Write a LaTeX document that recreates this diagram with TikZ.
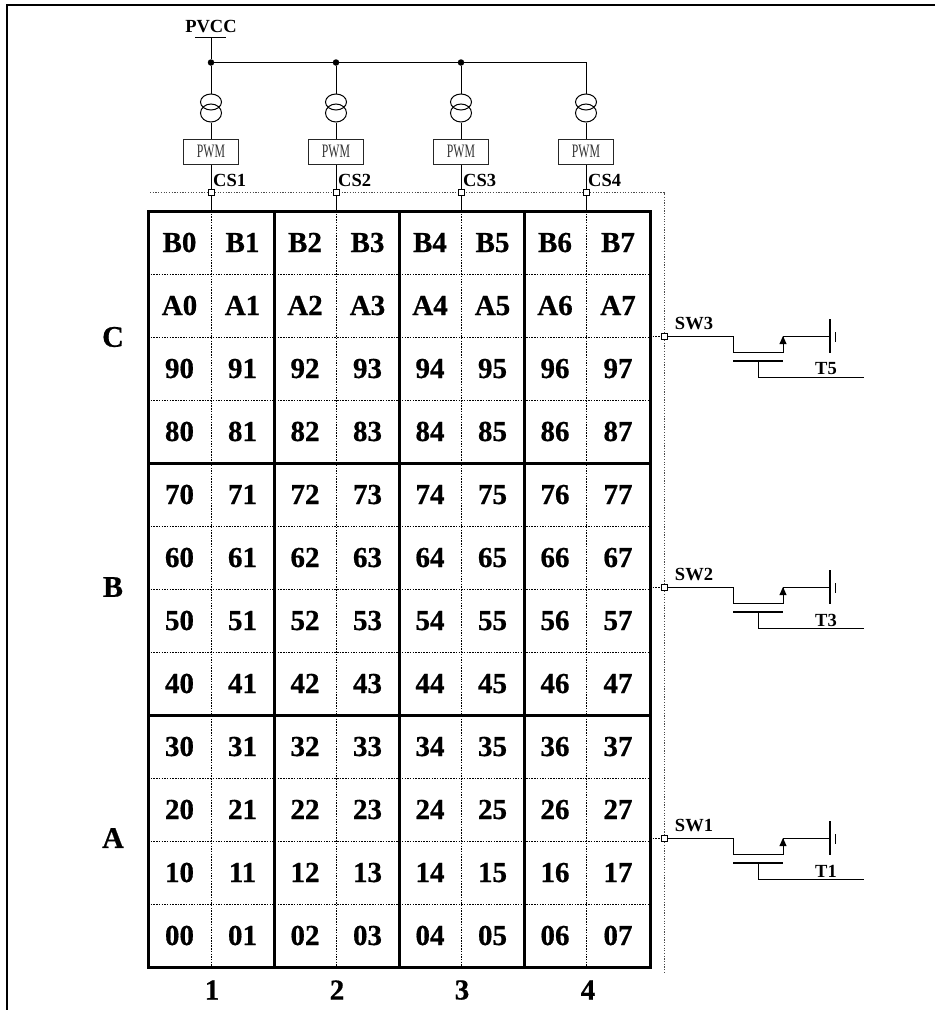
\documentclass[tikz,border=0pt]{standalone}
\usepackage{fontspec}
\usepackage{graphicx}
\setmainfont{Liberation Serif}
\usetikzlibrary{arrows.meta,shapes.geometric}
\newfontfamily\heavyserif[FakeBold=0.6]{Liberation Serif Bold}
\tikzset{
  wire/.style={line width=1pt,black},
  heavy/.style={line width=3pt,black,line cap=rect},
  griddot/.style={line width=0.9pt,black,dash pattern=on 1.5pt off 1.2pt},
  outerdot/.style={line width=0.8pt,black!70,dash pattern=on 1.2pt off 1.5pt},
  cell/.style={font=\fontsize{29}{29}\selectfont\heavyserif,inner sep=0pt,text height=19pt,text depth=0pt,anchor=center},
  sidelabel/.style={font=\fontsize{30}{30}\selectfont\heavyserif,inner sep=0pt},
  collabel/.style={font=\fontsize{29}{29}\selectfont\heavyserif,inner sep=0pt},
  pinlabel/.style={font=\fontsize{18.5}{18.5}\selectfont\bfseries,inner sep=0pt},
  pwmbox/.style={draw=black!85,line width=1pt,fill=white,minimum width=55pt,minimum height=25pt,inner sep=0pt,font=\fontsize{19}{19}\selectfont,text=black!80},
  port/.style={draw=black,fill=white,line width=1pt,minimum size=6pt,inner sep=0pt},
  junction/.style={circle,fill=black,minimum size=6.5pt,inner sep=0pt},
  coil/.style={ellipse,draw=black,line width=1pt},
}
\begin{document}
\begin{tikzpicture}[x=1pt,y=-1pt]
\useasboundingbox (0,0) rectangle (935,1010);
\fill[white] (0,0) rectangle (935,1010);
% page frame
\coordinate (frameTL) at (7,5);
\coordinate (frameTR) at (935,5);
\coordinate (frameBL) at (7,1010);
\draw[line width=1.3pt] (frameTR) -- (frameTL) -- (frameBL);
% outer dotted boundary
\coordinate (dotL) at (150,192.5);
\coordinate (dotC) at (664,192.5);
\coordinate (dotB) at (664,972);
\draw[outerdot] (dotL) -- (dotC) -- (dotB);
% inner dotted grid
\foreach \y in {274,337,400,526,589,652,778,841,904}
  \draw[griddot] (148,\y) -- (650,\y);
\foreach \x in {211,336,461,586}
  \draw[griddot] (\x,211) -- (\x,967);
% heavy grid
\foreach \y in {211,463,715,967}
  \draw[heavy] (148,\y) -- (650,\y);
\foreach \x in {148,274,399,524,650}
  \draw[heavy] (\x,211) -- (\x,967);
% cell labels
\foreach \lab [count=\r from 0] in {B,A,9,8,7,6,5,4,3,2,1,0}{
  \foreach \c/\x in {0/179.5,1/242.5,2/305,3/367.5,4/430,5/492.5,6/555,7/618}{
    \pgfmathsetmacro{\yy}{242.5+63*\r}
    \node[cell] (cell\lab\c) at (\x,\yy) {\lab\c};
  }
}
% side labels
\node[sidelabel] (groupC) at (113,337) {C};
\node[sidelabel] (groupB) at (113,587) {B};
\node[sidelabel] (groupA) at (113,838) {A};
\node[collabel] (col1) at (212,990) {1};
\node[collabel] (col2) at (337,990) {2};
\node[collabel] (col3) at (462,990) {3};
\node[collabel] (col4) at (588,990) {4};
% supply
\coordinate (pvccL) at (195,37);
\coordinate (pvccR) at (226,37);
\coordinate (pvcc) at (211,37);
\node[pinlabel] (pvcclabel) at (211,26.5) {PVCC};
\draw[wire] (pvccL) -- (pvccR);
\node[junction] (j1) at (211,62.5) {};
\node[junction] (j2) at (336,62.5) {};
\node[junction] (j3) at (461,62.5) {};
\coordinate (j4) at (586,62.5);
\draw[wire] (pvcc) -- (j1);
\draw[wire] (j1) -- (j2) -- (j3) -- (j4) -- (586,70);
% channels
\foreach \i/\x in {1/211,2/336,3/461,4/586}{
  \node[coil,minimum width=21pt,minimum height=16pt,inner sep=0pt] (up\i) at (\x,102) {};
  \node[coil,minimum width=21pt,minimum height=18pt,inner sep=0pt] (lo\i) at (\x,113) {};
  \node[pwmbox] (pwm\i) at (\x,151.5) {\scalebox{0.62}[1]{PWM}};
  \node[port] (cs\i) at (\x,192.5) {};
  \coordinate (gridtop\i) at (\x,211);
  \draw[wire] (j\i) -- (up\i.north);
  \draw[wire] (lo\i.south) -- (pwm\i.north);
  \draw[wire] (pwm\i.south) -- (cs\i.north);
  \draw[wire] (cs\i.south) -- (gridtop\i);
  \node[pinlabel,anchor=west] (cslabel\i) at (\x+2,180) {CS\i};
}
% switches
\foreach \s/\t/\y in {3/5/336,2/3/587,1/1/838}{
  \node[port] (sw\s) at (664,\y) {};
  \coordinate (gridedge\s) at (650,\y);
  \draw[griddot] (gridedge\s) -- (sw\s.west);
  \coordinate (a\s) at (733,\y);
  \coordinate (b\s) at (733,\y+16);
  \coordinate (c\s) at (783,\y+16);
  \coordinate (d\s) at (783,\y);
  \coordinate (g\s) at (830,\y);
  \coordinate (gt\s) at (830,\y-17);
  \coordinate (gb\s) at (830,\y+17);
  \coordinate (ht\s) at (835,\y-4);
  \coordinate (hb\s) at (835,\y+6);
  \coordinate (gl\s) at (733,\y+25);
  \coordinate (gr\s) at (783,\y+25);
  \coordinate (gm\s) at (758,\y+25);
  \coordinate (ge\s) at (758,\y+41);
  \coordinate (gend\s) at (864,\y+41);
  \draw[wire] (sw\s.east) -- (a\s) -- (b\s) -- (c\s) -- (d\s) -- (g\s);
  \fill (d\s) -- ++(3.6,8) -- ++(-7.2,0) -- cycle;
  \draw[line width=1.2pt] (gt\s) -- (gb\s);
  \draw[line width=0.8pt] (ht\s) -- (hb\s);
  \draw[line width=1.2pt] (gl\s) -- (gr\s);
  \draw[wire] (gm\s) -- (ge\s) -- (gend\s);
  \node[pinlabel] (swlabel\s) at (694,\y-12) {SW\s};
  \node[pinlabel] (tlabel\s) at (826,\y+33) {T\t};
}
\end{tikzpicture}
\end{document}
